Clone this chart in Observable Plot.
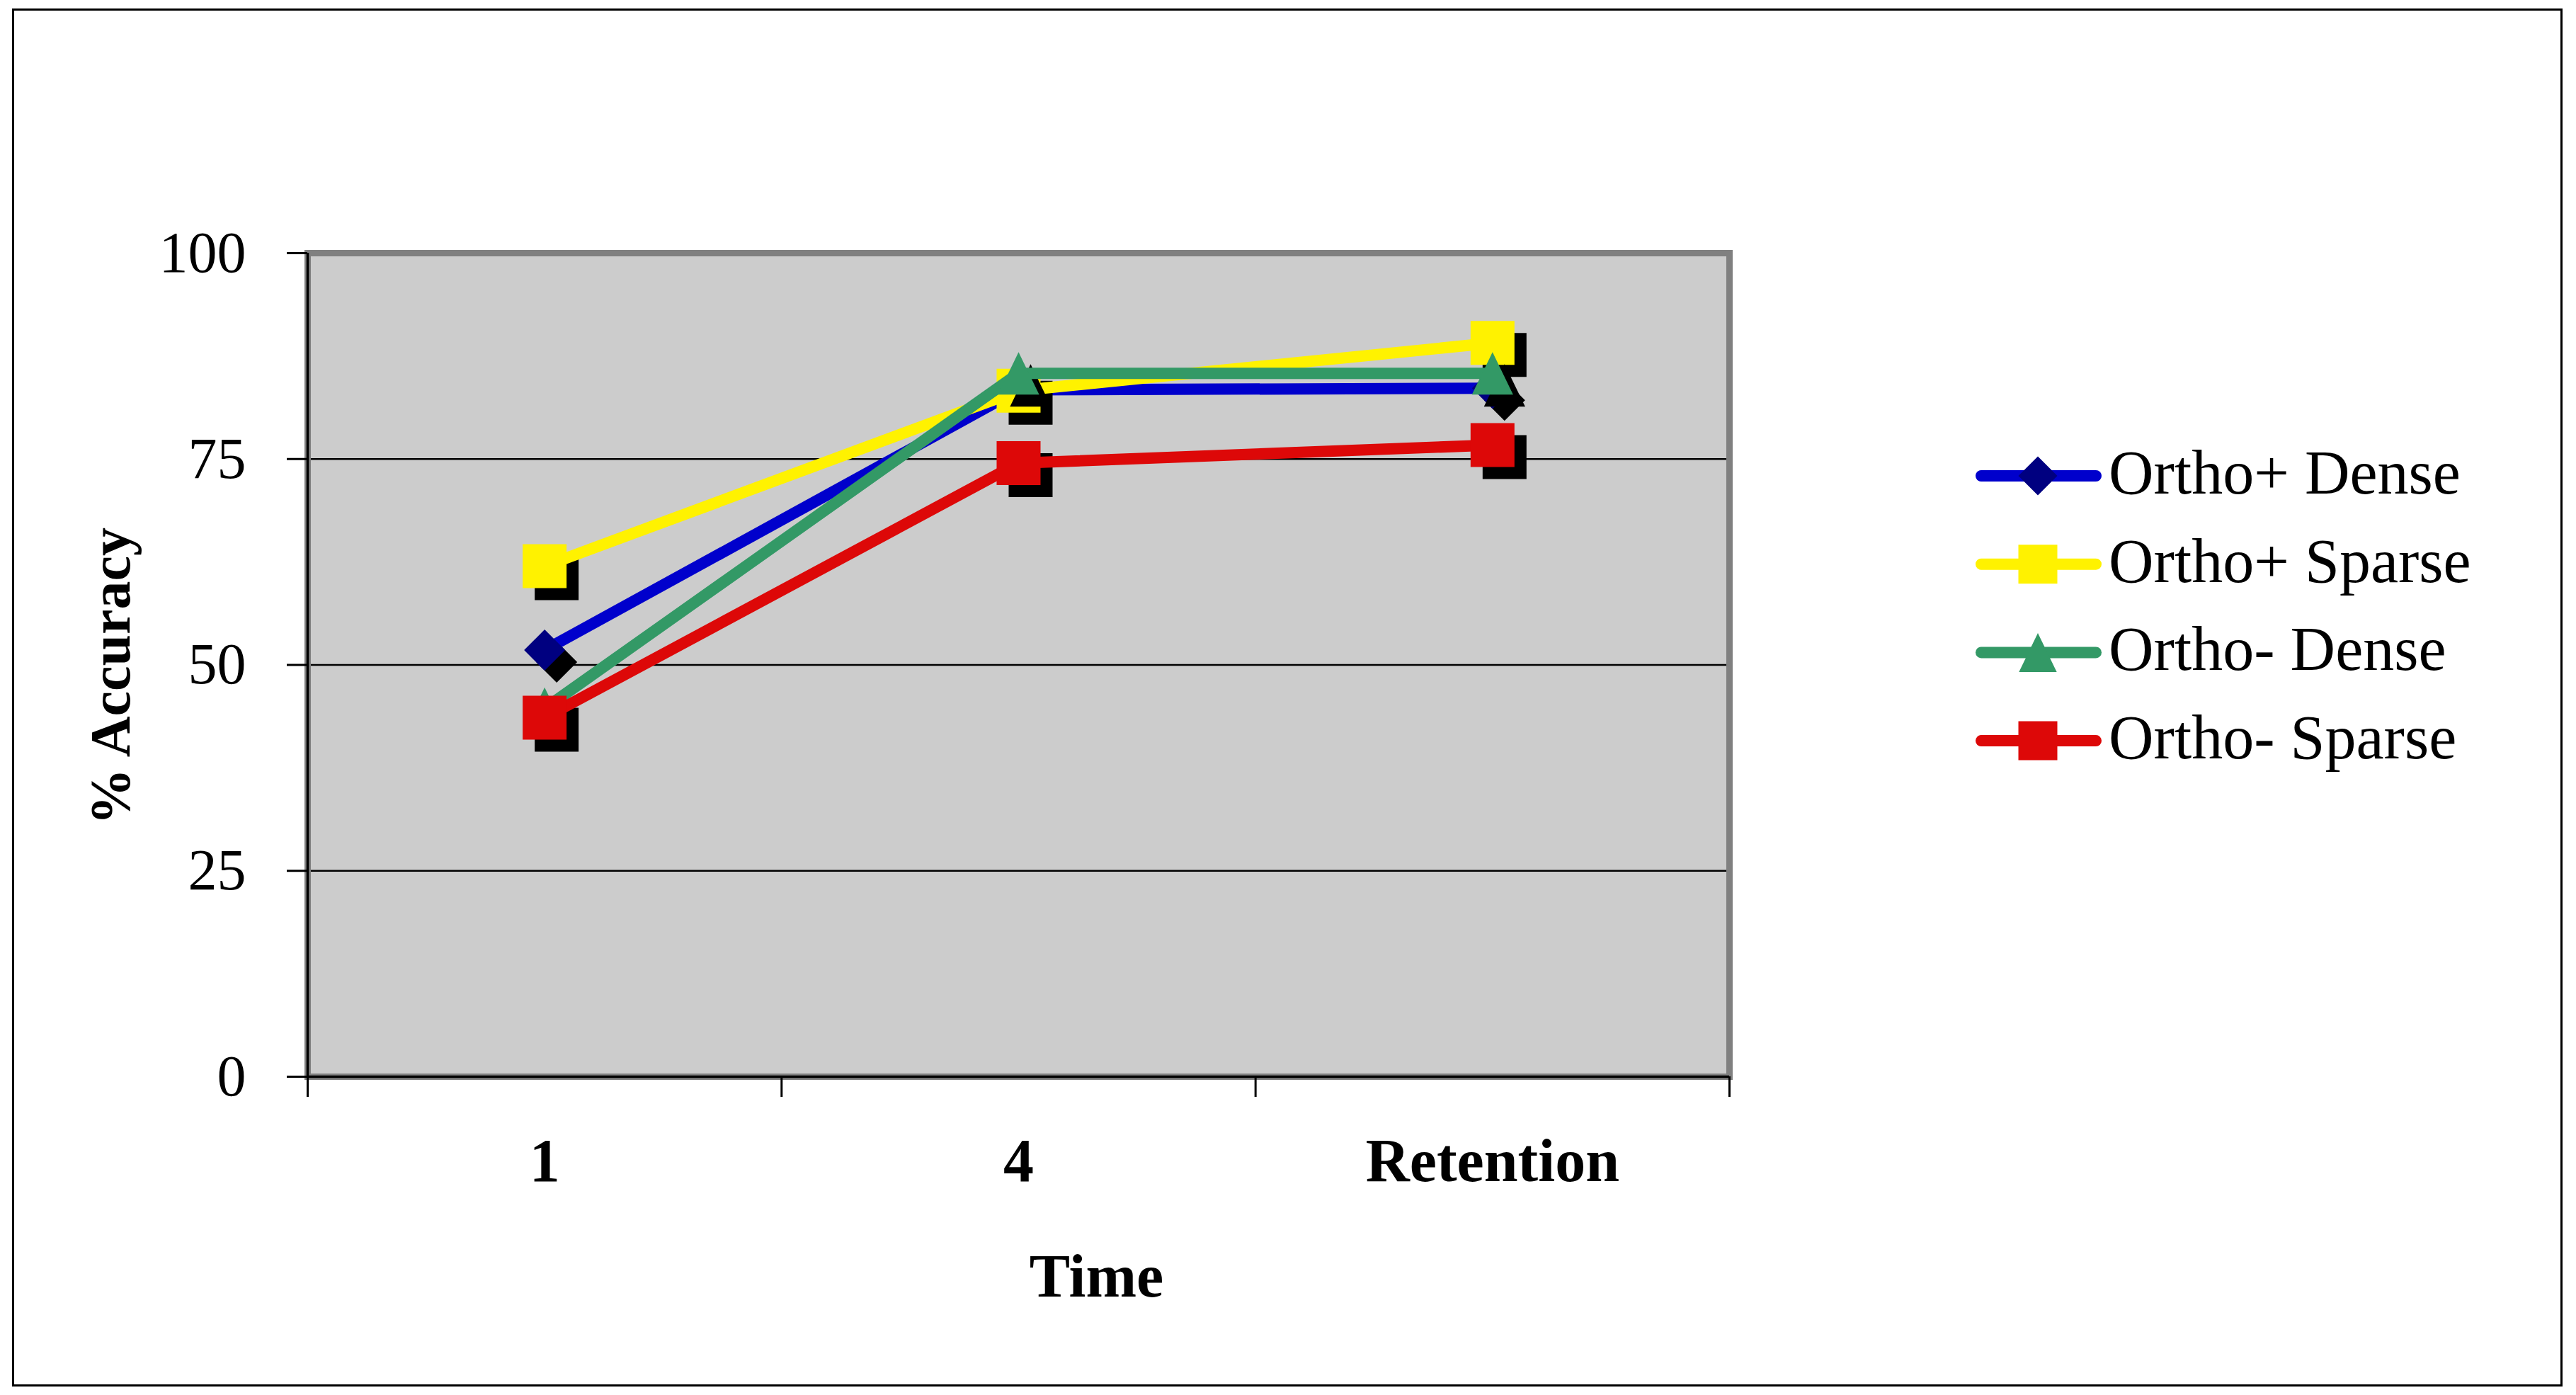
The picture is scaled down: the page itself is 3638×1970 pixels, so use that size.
<!DOCTYPE html>
<html>
<head>
<meta charset="utf-8">
<script src="https://cdn.jsdelivr.net/npm/d3@7"></script>
<script src="https://cdn.jsdelivr.net/npm/@observablehq/plot@0.6"></script>
<style>
  body { margin: 0; background: #fff; }
  #wrap { position: relative; width: 3638px; height: 1970px; background: #fff; font-family: "Liberation Serif", serif; overflow: hidden; }
  #wrap > svg.plotsvg { position: absolute; left: 0; top: 0; }
  #border { position: absolute; left: 17px; top: 12px; width: 3602px; height: 1946px; border: 3px solid #000; box-sizing: border-box; pointer-events: none; z-index: 2; }
  #legend { position: absolute; left: 2760px; top: 600px; z-index: 3; }
</style>
</head>
<body>
<div id="wrap"><div id="border"></div></div>
<script>
// ---- data ----
const categories = ["1", "4", "Retention"];
const seriesNames = ["Ortho+ Dense", "Ortho+ Sparse", "Ortho- Dense", "Ortho- Sparse"];
const orthoPlusDense   = [51.8, 83.4, 83.6];
const orthoPlusSparse  = [62.0, 83.3, 89.1];
const orthoMinusDense  = [44.7, 85.4, 85.4];
const orthoMinusSparse = [43.6, 74.5, 76.7];
const yTicks = [0, 25, 50, 75, 100];
const yGrid = [25, 50, 75];

// ---- styles ----
const lineColors   = ["#0000cc", "#fff200", "#339966", "#dd0808"];
const markerColors = ["#000080", "#fff200", "#339966", "#dd0808"];
const FONT = "'Liberation Serif', 'Times New Roman', serif";

const half = size => Math.sqrt(size / Math.PI);
const squareSym = {draw(c, size) { const h = half(size); c.moveTo(-h, -h); c.lineTo(h, -h); c.lineTo(h, h); c.lineTo(-h, h); c.closePath(); }};
const diamondSym = {draw(c, size) { const h = half(size); c.moveTo(0, -h); c.lineTo(h, 0); c.lineTo(0, h); c.lineTo(-h, 0); c.closePath(); }};
const triangleSym = {draw(c, size) { const h = half(size); c.moveTo(0, -h); c.lineTo(h * 0.97, h); c.lineTo(-h * 0.97, h); c.closePath(); }};
const symbols = [diamondSym, squareSym, triangleSym, squareSym];
const markerR = [29, 31, 30, 31];

const seriesValues = [orthoPlusDense, orthoPlusSparse, orthoMinusDense, orthoMinusSparse];
const rows = seriesNames.map((name, k) =>
  seriesValues[k].map((v, i) => ({series: name, idx: i, category: categories[i], value: v}))
);
const xBoundaries = d3.range(categories.length + 1);

const seriesMarks = rows.flatMap((data, k) => [
  Plot.dot(data, {x: d => d.idx + 0.5, y: "value", symbol: symbols[k], r: markerR[k], fill: "black", dx: 17, dy: 17}),
  Plot.line(data, {x: d => d.idx + 0.5, y: "value", stroke: lineColors[k], strokeWidth: 16, strokeLinejoin: "round", strokeLinecap: "butt"}),
  Plot.dot(data, {x: d => d.idx + 0.5, y: "value", symbol: symbols[k], r: markerR[k], fill: markerColors[k]})
]);

const chart = Plot.plot({
  width: 3638,
  height: 1970,
  marginLeft: 434,
  marginRight: 1196,
  marginTop: 357,
  marginBottom: 450,
  style: {fontFamily: FONT, fontSize: "82px", background: "transparent", maxWidth: "none", overflow: "visible", color: "black"},
  x: {type: "linear", domain: [0, categories.length], axis: null},
  y: {domain: [0, 100], axis: null},
  marks: [
    Plot.frame({fill: "#cccccc", stroke: null}),
    Plot.ruleY(yGrid, {stroke: "black", strokeWidth: 2.5}),
    Plot.frame({stroke: "#808080", strokeWidth: 9, fill: null}),
    Plot.ruleX([0], {stroke: "black", strokeWidth: 3.5}),
    Plot.ruleY([0], {stroke: "black", strokeWidth: 3.5}),
    Plot.axisY({ticks: yTicks, tickSize: 29, tickPadding: 58, fontSize: 82, strokeWidth: 3, label: null, fontFamily: FONT}),
    Plot.axisX({ticks: xBoundaries, tickSize: 29, strokeWidth: 3, label: null, tickFormat: () => ""}),
    Plot.text(categories, {x: (d, i) => i + 0.5, frameAnchor: "bottom", dy: 147, lineAnchor: "bottom", textAnchor: "middle", fontWeight: "bold", fontSize: 86, fontFamily: FONT}),
    Plot.text(["Time"], {frameAnchor: "bottom", dx: 110, dy: 310, lineAnchor: "bottom", textAnchor: "middle", fontWeight: "bold", fontSize: 86, fontFamily: FONT}),
    Plot.text(["% Accuracy"], {frameAnchor: "left", rotate: -90, dx: -252, dy: 16, lineAnchor: "bottom", textAnchor: "middle", fontWeight: "bold", fontSize: 80, fontFamily: FONT}),
    ...seriesMarks
  ]
});
chart.classList.add("plotsvg");
const wrap = document.getElementById("wrap");
wrap.insertBefore(chart, wrap.firstChild);

// ---- legend ----
const leg = d3.select("#wrap").append("svg")
  .attr("id", "legend").attr("width", 860).attr("height", 520);
seriesNames.forEach((name, k) => {
  const cy = 72 + k * 124.7;
  const g = leg.append("g");
  g.append("line").attr("x1", 38).attr("x2", 200).attr("y1", cy).attr("y2", cy)
    .attr("stroke", lineColors[k]).attr("stroke-width", 16).attr("stroke-linecap", "round");
  g.append("path").attr("d", d3.symbol(symbols[k], Math.PI * 27.5 * 27.5)())
    .attr("transform", `translate(118,${cy})`).attr("fill", markerColors[k]);
  g.append("text").attr("x", 218).attr("y", cy + 25)
    .attr("font-family", FONT).attr("font-size", 88).attr("fill", "black").text(name);
});
</script>
</body>
</html>
